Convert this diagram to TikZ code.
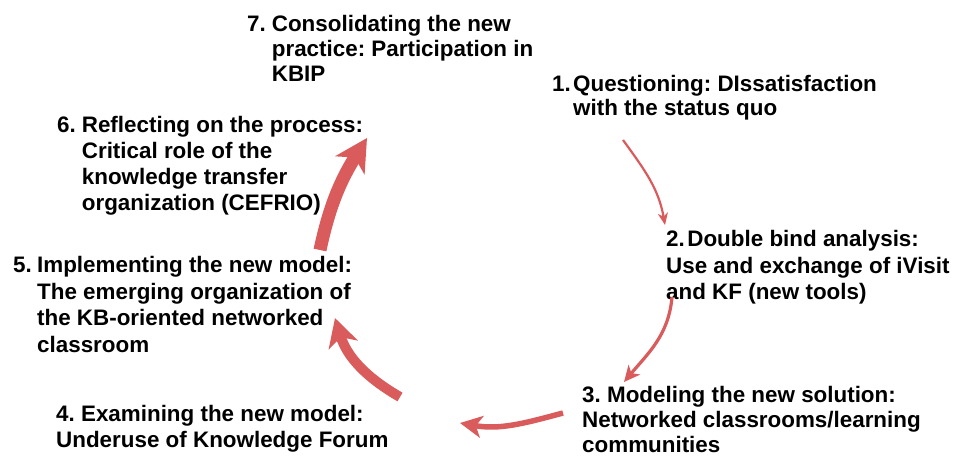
\documentclass[tikz,border=0pt]{standalone}
\usepackage{fontspec}
\setmainfont{Liberation Sans}
\usetikzlibrary{arrows.meta}
\definecolor{myred}{HTML}{D95B5B}
\frenchspacing
\newcommand{\phasefont}[1]{\fontsize{22.4}{#1}\selectfont\bfseries}

\begin{document}
\begin{tikzpicture}[x=1pt, y=1pt,
    phase/.style={anchor=base west, inner sep=0pt, font=\phasefont{26}},
    redarrow/.style n args={4}{draw=myred, line width=#1,
      -{Stealth[length=#2, width=#3, inset=#4]}}]
    \useasboundingbox (0,0) rectangle (955,458);

    % the seven phases
    \node[phase, font=\phasefont{25}] (p7) at (247,426) {\begin{tabular}[t]{@{}l@{\hspace{6pt}}l@{}}
      7. & Consolidating the new\\ & practice: Participation in\\ & KBIP\end{tabular}};
    \node[phase, font=\phasefont{23.5}] (p1) at (552,366) {\begin{tabular}[t]{@{}l@{\hspace{2.3pt}}l@{}}
      1. & Questioning: DIssatisfaction\\ & with the status quo\end{tabular}};
    \node[phase] (p6) at (57,325) {\begin{tabular}[t]{@{}l@{\hspace{6pt}}l@{}}
      6. & Reflecting on the process:\\ & Critical role of the\\ & knowledge transfer\\ & organization (CEFRIO)\end{tabular}};
    \node[phase, font=\phasefont{26.5}] (p2) at (666,211) {\begin{tabular}[t]{@{}l@{}}
      2.\hspace{2.5pt}Double bind analysis:\\ Use and exchange of iVisit\\ and KF (new tools)\end{tabular}};
    \node[phase, font=\phasefont{26.5}] (p5) at (13,185) {\begin{tabular}[t]{@{}l@{\hspace{5.3pt}}l@{}}
      5. & Implementing the new model:\\ & The emerging organization of\\ & the KB-oriented networked\\ & classroom\end{tabular}};
    \node[phase, font=\phasefont{25}] (p3) at (582,56) {\begin{tabular}[t]{@{}l@{}}
      3. Modeling the new solution:\\ Networked classrooms/learning\\ communities\end{tabular}};
    \node[phase, font=\phasefont{26.5}] (p4) at (56,37) {\begin{tabular}[t]{@{}l@{}}
      4. Examining the new model:\\ Underuse of Knowledge Forum\end{tabular}};

    % ends of the cycle arrows
    \coordinate (a1) at (623,318);
    \coordinate (a2) at (665,233);
    \coordinate (b1) at (672,161);
    \coordinate (b2) at (624,76);
    \coordinate (c1) at (563,45);
    \coordinate (c2) at (460,35);
    \coordinate (d1) at (400,61);
    \coordinate (d2) at (335,140);
    \coordinate (e1) at (320,208);
    \coordinate (e2) at (367,320);

    \draw[redarrow={2.2pt}{12pt}{10pt}{3.5pt}] (a1) to[out=-54, in=100] (a2);
    \draw[redarrow={3.2pt}{16pt}{15pt}{4.5pt}] (b1) to[out=-95, in=50] (b2);
    \draw[redarrow={5.5pt}{22pt}{22pt}{6pt}] (c1) to[out=195, in=-10] (c2);
    \draw[redarrow={10pt}{28pt}{30pt}{8pt}] (d1) to[out=150, in=-73] (d2);
    \draw[redarrow={13pt}{32pt}{34pt}{9pt}] (e1) to[out=78, in=238] (e2);
  \end{tikzpicture}
\end{document}
